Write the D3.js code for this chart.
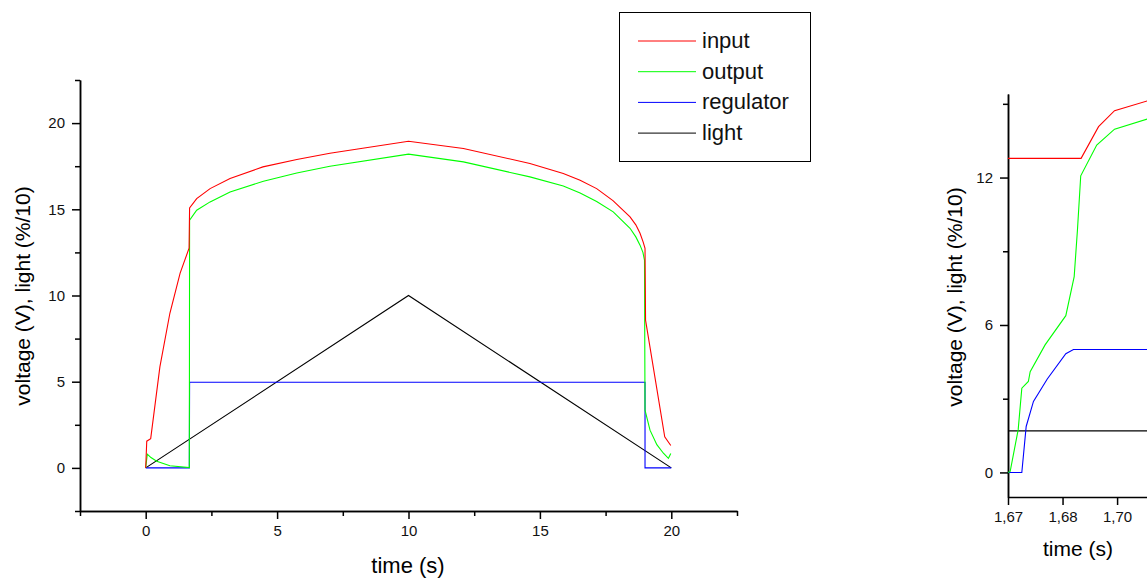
<!DOCTYPE html>
<html>
<head>
<meta charset="utf-8">
<script src="https://cdn.jsdelivr.net/npm/d3@7"></script>
<style>
    body { margin: 0; background: #fff; }
    svg { display: block; font-family: "Liberation Sans", Arial, sans-serif; }
</style>
</head>
<body>
<script>
// main chart series, [time (s), value]
const inputPts = [[0,0],[0.04,1.55],[0.19,1.7],[0.54,5.86],[0.92,8.97],[1.31,11.3],[1.65,12.74],[1.67,15.08],[1.94,15.62],[2.45,16.2],[3.21,16.79],[4.46,17.46],[5.75,17.89],[7.01,18.25],[10,18.95],[12.09,18.53],[14.62,17.66],[15.89,17.08],[16.53,16.69],[17.16,16.2],[17.78,15.5],[18.43,14.56],[18.65,14.1],[18.81,13.61],[18.93,13.1],[19.0,12.73],[19.02,8.57],[19.75,1.8],[19.98,1.3]];
const outputPts = [[0,0],[0.06,0.8],[0.2,0.6],[0.42,0.39],[0.92,0.12],[1.66,0.02],[1.67,14.37],[1.94,14.95],[2.45,15.43],[3.21,16.0],[4.48,16.63],[5.75,17.11],[7.01,17.5],[10,18.2],[12.09,17.75],[14.62,16.88],[15.89,16.35],[16.53,15.95],[17.16,15.45],[17.79,14.85],[18.43,13.9],[18.65,13.4],[18.81,12.92],[18.92,12.5],[18.98,12.05],[19.0,3.35],[19.19,2.19],[19.45,1.35],[19.7,0.85],[19.89,0.55],[19.98,0.84]];
const regulatorPts = [[0,0],[1.66,0],[1.67,4.97],[19.0,4.97],[19.0,0],[20,0]];
const lightPts = [[0,0],[10,10],[20,0]];

// zoomed chart series (right, cut off by the page edge)
const zoomInputPts = [[1.67,12.78],[1.6901,12.78],[1.6949,14.07],[1.6993,14.72],[1.7083,15.12]];
const zoomOutputPts = [[1.67,0],[1.6706,0.04],[1.6728,1.74],[1.6738,3.43],[1.6756,3.7],[1.6761,4.1],[1.6802,5.19],[1.6859,6.38],[1.6882,7.97],[1.6891,9.87],[1.69,12.07],[1.6944,13.32],[1.6993,13.97],[1.7083,14.38]];
const zoomRegulatorPts = [[1.67,0],[1.6738,0],[1.675,1.87],[1.677,2.89],[1.6808,3.8],[1.6859,4.83],[1.688,5.0],[1.7083,5.0]];
const zoomLightPts = [[1.67,1.69],[1.7083,1.69]];

const seriesNames = ["input", "output", "regulator", "light"];
const seriesColors = ["#ff0000", "#00ff00", "#0000ff", "#000000"];

const mainXTicks = [0, 5, 10, 15, 20];
const mainXMinor = [-2.5, 2.5, 7.5, 12.5, 17.5, 22.5];
const mainYTicks = [0, 5, 10, 15, 20];
const mainYMinor = [-2.5, 2.5, 7.5, 12.5, 17.5, 22.5];
const zoomXTicks = [1.67, 1.685, 1.70];
const zoomXLabels = ["1,67", "1,68", "1,70"];
const zoomYTicks = [0, 6, 12];
const zoomYMinor = [3, 9, 15];

const yTitle = "voltage (V), light (%/10)";
const xTitle = "time (s)";

const svg = d3.select("body").append("svg")
    .attr("width", 1147)
    .attr("height", 581);

svg.append("rect").attr("width", 1147).attr("height", 581).attr("fill", "#fff");

function drawAxes(x, y, xMajor, xMinor, xFmt, yMajor, yMinor, yFmt) {
    const [x0] = x.range();
    const [y0] = y.range();

    svg.append("g").attr("transform", `translate(0,${y0})`)
        .call(d3.axisBottom(x).tickValues(xMajor).tickSize(8).tickSizeOuter(0).tickPadding(6).tickFormat(xFmt));
    if (xMinor.length) {
        svg.append("g").attr("transform", `translate(0,${y0})`)
            .call(d3.axisBottom(x).tickValues(xMinor).tickSize(5).tickSizeOuter(0).tickFormat(""));
    }
    svg.append("g").attr("transform", `translate(${x0},0)`)
        .call(d3.axisLeft(y).tickValues(yMajor).tickSize(8).tickSizeOuter(0).tickPadding(7).tickFormat(yFmt));
    svg.append("g").attr("transform", `translate(${x0},0)`)
        .call(d3.axisLeft(y).tickValues(yMinor).tickSize(5).tickSizeOuter(0).tickFormat(""));

    svg.selectAll(".domain, .tick line").attr("stroke", "#000").attr("stroke-width", 1.5);
    svg.selectAll(".tick text").attr("fill", "#111").style("font-size", "15px");
}

function drawLines(x, y, seriesList) {
    const line = d3.line().x(d => x(d[0])).y(d => y(d[1]));
    // drawn back to front so that the order of overlap matches
    [3, 2, 1, 0].forEach(i => {
        svg.append("path")
            .datum(seriesList[i])
            .attr("d", line)
            .attr("fill", "none")
            .attr("stroke", seriesColors[i])
            .attr("stroke-width", 1.1);
    });
}

// main chart
const x = d3.scaleLinear().domain([-2.5, 22.5]).range([80, 737]);
const y = d3.scaleLinear().domain([-2.5, 22.5]).range([511, 80]);
drawAxes(x, y, mainXTicks, mainXMinor, d3.format("d"), mainYTicks, mainYMinor, d3.format("d"));
drawLines(x, y, [inputPts, outputPts, regulatorPts, lightPts]);

svg.append("text")
    .attr("x", 408).attr("y", 573)
    .attr("text-anchor", "middle")
    .style("font-size", "22px")
    .text(xTitle);

svg.append("text")
    .attr("transform", "translate(30,296) rotate(-90)")
    .attr("text-anchor", "middle")
    .style("font-size", "21px")
    .text(yTitle);

// legend
const legend = svg.append("g");
legend.append("rect")
    .attr("x", 619.5).attr("y", 12.5)
    .attr("width", 191).attr("height", 149)
    .attr("fill", "#fff").attr("stroke", "#000").attr("stroke-width", 1);

seriesNames.forEach((name, i) => {
    const ly = 41 + i * 30.7;
    legend.append("line")
        .attr("x1", 638).attr("x2", 696)
        .attr("y1", ly).attr("y2", ly)
        .attr("stroke", seriesColors[i]).attr("stroke-width", 1);
    legend.append("text")
        .attr("x", 702).attr("y", ly + 7)
        .style("font-size", "22px")
        .attr("fill", "#111")
        .text(name);
});

// zoomed chart on the right
const zx = d3.scaleLinear().domain([1.67, 1.7085]).range([1008, 1148]);
const zy = d3.scaleLinear().domain([-1, 15.4]).range([497, 94]);
drawAxes(zx, zy, zoomXTicks, [], (d, i) => zoomXLabels[i], zoomYTicks, zoomYMinor, d3.format("d"));
drawLines(zx, zy, [zoomInputPts, zoomOutputPts, zoomRegulatorPts, zoomLightPts]);

svg.append("text")
    .attr("x", 1078).attr("y", 556)
    .attr("text-anchor", "middle")
    .style("font-size", "21px")
    .text(xTitle);

svg.append("text")
    .attr("transform", "translate(962,297) rotate(-90)")
    .attr("text-anchor", "middle")
    .style("font-size", "21px")
    .text(yTitle);
</script>
</body>
</html>
